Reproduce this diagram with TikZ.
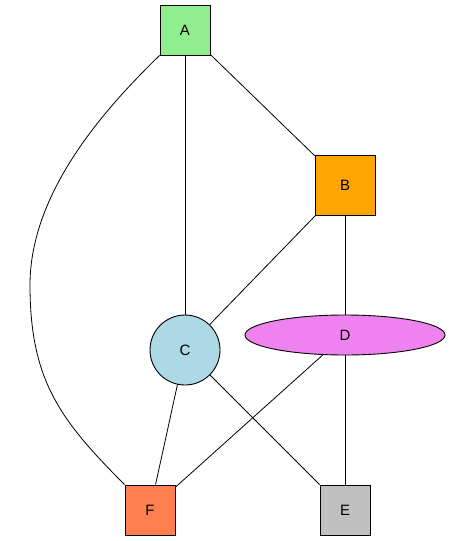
\documentclass[tikz,border=0pt]{standalone}
\usepackage{fontspec}
\setmainfont{Liberation Sans}
\usetikzlibrary{shapes.geometric}
\definecolor{nodeA}{HTML}{90EE90}
\definecolor{nodeB}{HTML}{FFA500}
\definecolor{nodeC}{HTML}{ADD8E6}
\definecolor{nodeD}{HTML}{EE82EE}
\definecolor{nodeE}{HTML}{C0C0C0}
\definecolor{nodeF}{HTML}{FF7F50}
\begin{document}
\begin{tikzpicture}[x=1pt,y=-1pt,
  vertex/.style={draw=black,line width=0.9pt,inner sep=0pt,
    font=\fontsize{15}{17}\selectfont},
  boxnode/.style={vertex,rectangle,minimum size=#1},
  link/.style={draw=black,line width=0.8pt}]
\useasboundingbox (0,0) rectangle (451,541);
% vertices
\node[boxnode=50pt,fill=nodeA] (A) at (185,30) {A};
\node[boxnode=60pt,fill=nodeB] (B) at (345,185) {B};
\node[vertex,circle,minimum size=70pt,fill=nodeC] (C) at (185,350) {C};
\node[vertex,ellipse,minimum width=200pt,minimum height=40pt,fill=nodeD] (D) at (345,335) {D};
\node[boxnode=50pt,fill=nodeE] (E) at (345,510) {E};
\node[boxnode=50pt,fill=nodeF] (F) at (150,510) {F};
% edges
\path[link] (A) -- (B);
\path[link] (A) -- (C);
\path[link] (A.south west) .. controls (112,102) and (30,188) .. (30,285)
  .. controls (30,380) and (60,420) .. (F.north west);
\path[link] (B) -- (C);
\path[link] (B) -- (D);
\path[link] (C) -- (F);
\path[link] (C) -- (E);
\path[link] (D) -- (F);
\path[link] (D) -- (E);
\end{tikzpicture}
\end{document}
